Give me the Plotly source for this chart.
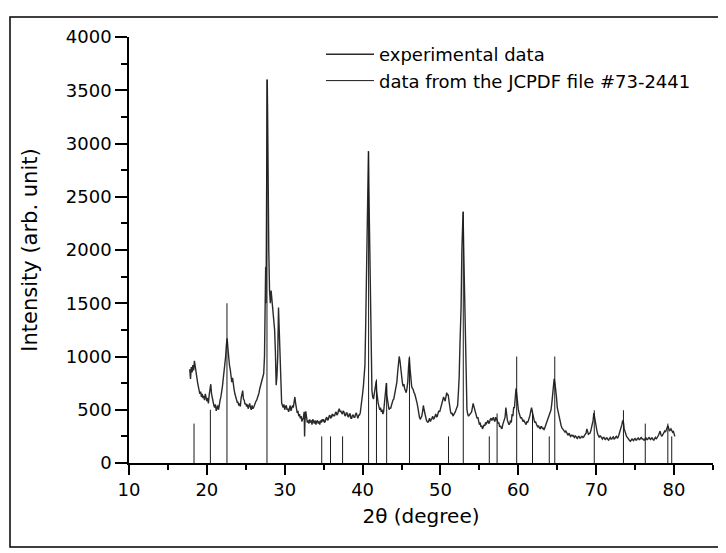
import plotly.graph_objects as go

# Experimental XRD pattern (2theta in degrees, intensity in arb. units)
exp_2theta = [
    17.8, 17.9,
    18.0, 18.1, 18.2, 18.3, 18.4, 18.5, 18.6, 18.7, 18.8, 18.9,
    19.0, 19.1, 19.2, 19.3, 19.4, 19.5, 19.6, 19.7, 19.8, 19.9,
    20.0, 20.1, 20.2, 20.3, 20.4, 20.5, 20.6, 20.7, 20.8, 20.9,
    21.0, 21.1, 21.2, 21.3, 21.4, 21.5, 21.6, 21.7, 21.8, 21.9,
    22.0, 22.1, 22.2, 22.3, 22.4, 22.5, 22.6, 22.7, 22.8, 22.9,
    23.0, 23.1, 23.2, 23.3, 23.4, 23.5, 23.6, 23.7, 23.8, 23.9,
    24.0, 24.1, 24.2, 24.3, 24.4, 24.5, 24.6, 24.7, 24.8, 24.9,
    25.0, 25.1, 25.2, 25.3, 25.4, 25.5, 25.6, 25.7, 25.8, 25.9,
    26.0, 26.1, 26.2, 26.3, 26.4, 26.5, 26.6, 26.7, 26.8, 26.9,
    27.0, 27.1, 27.2, 27.3, 27.4, 27.5, 27.55, 27.6, 27.65, 27.7, 27.75, 27.8, 27.85, 27.95,
    28.05, 28.15, 28.25, 28.35, 28.5, 28.6, 28.7, 28.8, 28.9,
    29.0, 29.1, 29.2, 29.3, 29.4, 29.5, 29.6, 29.7, 29.8, 29.9,
    30.0, 30.1, 30.2, 30.3, 30.4, 30.5, 30.6, 30.7, 30.8, 30.9,
    31.0, 31.1, 31.2, 31.3, 31.4, 31.5, 31.6, 31.7, 31.8, 31.9,
    32.0, 32.1, 32.2, 32.3, 32.4, 32.5, 32.55, 32.6, 32.7, 32.8, 32.9,
    33.0, 33.1, 33.2, 33.3, 33.4, 33.5, 33.6, 33.7, 33.8, 33.9,
    34.0, 34.1, 34.2, 34.3, 34.4, 34.5, 34.6, 34.7, 34.8, 34.9,
    35.0, 35.1, 35.2, 35.3, 35.4, 35.5, 35.6, 35.7, 35.8, 35.9,
    36.0, 36.1, 36.2, 36.3, 36.4, 36.5, 36.6, 36.7, 36.8, 36.9,
    37.0, 37.1, 37.2, 37.3, 37.4, 37.5, 37.6, 37.7, 37.8, 37.9,
    38.0, 38.1, 38.2, 38.3, 38.4, 38.5, 38.6, 38.7, 38.8, 38.9,
    39.0, 39.1, 39.2, 39.3, 39.4, 39.5, 39.6, 39.7, 39.8, 39.9,
    40.0, 40.1, 40.2, 40.3, 40.4, 40.5, 40.6, 40.7, 40.75, 40.8, 40.9,
    41.0, 41.1, 41.2, 41.3, 41.4, 41.5, 41.6, 41.75, 41.8, 41.9,
    42.0, 42.1, 42.2, 42.3, 42.4, 42.5, 42.6, 42.7, 42.8, 42.9,
    43.0, 43.05, 43.1, 43.2, 43.3, 43.4, 43.5, 43.6, 43.7, 43.8, 43.9,
    44.0, 44.1, 44.2, 44.3, 44.4, 44.5, 44.6, 44.7, 44.8, 44.9,
    45.0, 45.1, 45.2, 45.3, 45.4, 45.5, 45.6, 45.7, 45.8, 45.9,
    46.0, 46.1, 46.2, 46.3, 46.4, 46.5, 46.6, 46.7, 46.8, 46.9,
    47.0, 47.1, 47.2, 47.3, 47.4, 47.5, 47.6, 47.7, 47.8, 47.9,
    48.0, 48.1, 48.2, 48.3, 48.4, 48.5, 48.6, 48.7, 48.8, 48.9,
    49.0, 49.1, 49.2, 49.3, 49.4, 49.5, 49.6, 49.7, 49.8, 49.9,
    50.0, 50.1, 50.2, 50.3, 50.4, 50.5, 50.6, 50.7, 50.8, 50.9,
    51.0, 51.1, 51.2, 51.3, 51.4, 51.5, 51.6, 51.7, 51.8, 51.9,
    52.0, 52.1, 52.2, 52.3, 52.4, 52.5, 52.65, 52.75, 52.9,
    53.0, 53.1, 53.2, 53.3, 53.4, 53.5, 53.6, 53.7, 53.8, 53.9,
    54.0, 54.1, 54.2, 54.3, 54.4, 54.5, 54.6, 54.7, 54.8, 54.9,
    55.0, 55.1, 55.2, 55.3, 55.4, 55.5, 55.6, 55.7, 55.8, 55.9,
    56.0, 56.1, 56.2, 56.3, 56.4, 56.5, 56.6, 56.7, 56.8, 56.9,
    57.0, 57.1, 57.2, 57.3, 57.4, 57.5, 57.6, 57.7, 57.8, 57.9,
    58.0, 58.1, 58.2, 58.3, 58.4, 58.5, 58.6, 58.7, 58.8, 58.9,
    59.0, 59.1, 59.2, 59.3, 59.4, 59.5, 59.6, 59.7, 59.8, 59.9,
    60.0, 60.1, 60.2, 60.3, 60.4, 60.5, 60.6, 60.7, 60.8, 60.9,
    61.0, 61.1, 61.2, 61.3, 61.4, 61.5, 61.6, 61.7, 61.8, 61.9,
    62.0, 62.1, 62.2, 62.3, 62.4, 62.5, 62.6, 62.7, 62.8, 62.9,
    63.0, 63.1, 63.2, 63.3, 63.4, 63.5, 63.6, 63.7, 63.8, 63.9,
    64.0, 64.1, 64.2, 64.3, 64.4, 64.5, 64.6, 64.7, 64.8, 64.9,
    65.0, 65.1, 65.2, 65.3, 65.4, 65.5, 65.6, 65.7, 65.8, 65.9,
    66.0, 66.1, 66.2, 66.3, 66.4, 66.5, 66.6, 66.7, 66.8, 66.9,
    67.0, 67.1, 67.2, 67.3, 67.4, 67.5, 67.6, 67.7, 67.8, 67.9,
    68.0, 68.1, 68.2, 68.3, 68.4, 68.5, 68.6, 68.7, 68.8, 68.9,
    69.0, 69.1, 69.2, 69.3, 69.4, 69.5, 69.6, 69.7, 69.8, 69.9,
    70.0, 70.1, 70.2, 70.3, 70.4, 70.5, 70.6, 70.7, 70.8, 70.9,
    71.0, 71.1, 71.2, 71.3, 71.4, 71.5, 71.6, 71.7, 71.8, 71.9,
    72.0, 72.1, 72.2, 72.3, 72.4, 72.5, 72.6, 72.7, 72.8, 72.9,
    73.0, 73.1, 73.2, 73.3, 73.4, 73.5, 73.6, 73.7, 73.8, 73.9,
    74.0, 74.1, 74.2, 74.3, 74.4, 74.5, 74.6, 74.7, 74.8, 74.9,
    75.0, 75.1, 75.2, 75.3, 75.4, 75.5, 75.6, 75.7, 75.8, 75.9,
    76.0, 76.1, 76.2, 76.3, 76.4, 76.5, 76.6, 76.7, 76.8, 76.9,
    77.0, 77.1, 77.2, 77.3, 77.4, 77.5, 77.6, 77.7, 77.8, 77.9,
    78.0, 78.1, 78.2, 78.3, 78.4, 78.5, 78.6, 78.7, 78.8, 78.9,
    79.0, 79.1, 79.2, 79.3, 79.4, 79.5, 79.6, 79.7, 79.8, 79.9,
    80.0, 80.1,
]
exp_intensity = [
    880, 790,
    900, 850, 920, 870, 960, 905, 820, 790, 760, 720,
    690, 650, 670, 620, 650, 610, 630, 590, 650, 600,
    580, 610, 560, 640, 720, 740, 650, 600, 560, 540,
    520, 550, 490, 520, 540, 500, 560, 590, 620, 660,
    720, 790, 850, 920, 990, 1100, 1170, 1080, 980, 920,
    880, 820, 760, 800, 720, 690, 650, 620, 600, 570,
    570, 540, 560, 530, 610, 640, 680, 600, 590, 550,
    560, 530, 550, 510, 530, 560, 520, 500, 540, 510,
    520, 550, 560, 580, 590, 610, 630, 660, 700, 730,
    760, 790, 830, 840, 1000, 1400, 1840, 1500, 2600, 3020, 3600, 3300, 2370, 2000,
    1615, 1500, 1620, 1520, 1440, 1300, 1250, 1050, 730,
    820, 1000, 1460, 1200, 940, 700, 570, 540, 520, 550,
    500, 530, 540, 500, 510, 480, 520, 540, 490, 510,
    540, 520, 560, 620, 560, 520, 470, 490, 440, 460,
    420, 440, 390, 410, 430, 480, 250, 400, 485, 420, 380,
    400, 370, 410, 380, 400, 360, 410, 390, 370, 400,
    360, 390, 400, 370, 390, 360, 400, 380, 410, 390,
    410, 380, 390, 420, 430, 400, 410, 440, 450, 420,
    430, 460, 440, 450, 440, 470, 480, 450, 460, 490,
    510, 480, 490, 470, 460, 490, 480, 450, 440, 470,
    470, 440, 430, 460, 460, 420, 420, 450, 450, 430,
    430, 460, 470, 440, 420, 450, 450, 470, 520, 580,
    650, 720, 800, 920, 1300, 1750, 2500, 2750, 2930, 2600, 2100,
    1200, 800, 680, 620, 600, 650, 700, 770, 680, 600,
    560, 530, 500, 520, 480, 500, 460, 480, 560, 620,
    700, 750, 640, 580, 540, 500, 520, 510, 540, 570, 590,
    600, 640, 680, 720, 760, 850, 950, 1000, 960, 880,
    800, 760, 720, 740, 700, 680, 660, 700, 760, 900,
    990, 880, 780, 720, 700, 690, 660, 650, 620, 600,
    560, 520, 460, 430, 410, 420, 440, 480, 540, 500,
    460, 430, 400, 390, 380, 400, 420, 390, 400, 420,
    440, 410, 420, 450, 460, 430, 440, 470, 490, 480,
    510, 530, 560, 590, 620, 600, 580, 620, 660, 640,
    640, 580, 520, 480, 460, 470, 440, 450, 460, 480,
    500, 520, 540, 660, 800, 1100, 1470, 2000, 2360,
    1950, 1500, 1100, 700, 500, 460, 440, 450, 460, 480,
    480, 520, 560, 530, 500, 460, 440, 420, 430, 400,
    360, 380, 340, 350, 320, 340, 360, 350, 380, 370,
    390, 400, 370, 380, 410, 420, 400, 410, 430, 400,
    390, 430, 420, 400, 370, 380, 340, 350, 330, 320,
    360, 380, 400, 430, 520, 420, 400, 380, 360, 370,
    400, 380, 460, 440, 520, 520, 620, 700, 640, 520,
    500, 470, 440, 420, 430, 410, 390, 400, 380, 370,
    360, 390, 380, 400, 420, 450, 490, 520, 480, 440,
    410, 380, 390, 360, 350, 340, 350, 330, 320, 340,
    340, 320, 330, 310, 330, 340, 360, 380, 400, 420,
    440, 460, 500, 560, 620, 700, 790, 750, 700, 620,
    520, 480, 440, 400, 370, 350, 330, 320, 310, 300,
    290, 300, 280, 270, 260, 280, 270, 250, 260, 255,
    260, 245, 240, 255, 250, 235, 230, 250, 250, 235,
    235, 250, 250, 240, 245, 260, 270, 280, 320, 300,
    270, 275, 280, 300, 330, 360, 400, 470, 420, 370,
    330, 300, 270, 250, 240, 255, 250, 235, 225, 240,
    240, 225, 220, 235, 235, 220, 215, 230, 240, 225,
    225, 240, 245, 225, 230, 245, 250, 235, 240, 260,
    280, 300, 330, 360, 400, 380, 320, 290, 270, 250,
    240, 225, 215, 210, 205, 220, 225, 215, 210, 225,
    230, 215, 215, 230, 235, 220, 220, 235, 240, 225,
    225, 215, 215, 230, 235, 220, 220, 235, 240, 225,
    220, 235, 235, 220, 215, 230, 240, 225, 235, 245,
    260, 280, 300, 270, 250, 260, 270, 290, 300, 290,
    310, 330, 350, 330, 300, 310, 320, 305, 290, 300,
    270, 250,
]
assert len(exp_2theta) == len(exp_intensity), (len(exp_2theta), len(exp_intensity))

# Reference pattern, JCPDF file #73-2441
ref_2theta = [18.35, 20.45, 22.58, 27.72, 34.75, 35.88, 37.43, 40.77, 41.78, 43.09, 46.02, 51.03,
              52.93, 56.27, 57.27, 59.79, 61.82, 63.97, 64.68, 69.75, 73.5, 76.3, 79.2, 79.7]
ref_intensity = [370, 500, 1500, 3600, 250, 250, 250, 2920, 785, 750, 1000, 250,
                 2360, 250, 465, 1000, 490, 250, 1000, 495, 495, 370, 370, 250]

x_ticks = [10, 20, 30, 40, 50, 60, 70, 80]
y_ticks = [0, 500, 1000, 1500, 2000, 2500, 3000, 3500, 4000]

stick_x, stick_y = [], []
for p, h in zip(ref_2theta, ref_intensity):
    stick_x += [p, p, None]
    stick_y += [0, h, None]

FONT = "DejaVu Sans"

fig = go.Figure()
fig.add_trace(go.Scatter(x=exp_2theta, y=exp_intensity, mode="lines",
                         name="experimental data",
                         line=dict(color="#2a2a2a", width=1.4)))
fig.add_trace(go.Scatter(x=stick_x, y=stick_y, mode="lines",
                         name="data from the JCPDF file #73-2441",
                         line=dict(color="#1a1a1a", width=1)))

# the page body adds an 8px offset; figure is sized to fit the 726x553 window
OFF = 8
W, H = 726 - OFF, 553 - OFF
L, T = 129 - OFF, 37 - OFF
plot_right, plot_bottom = 713 - OFF, 463 - OFF
R, B = W - plot_right, H - plot_bottom
pw, ph = W - L - R, H - T - B

def px(xpix):
    return (xpix - OFF - L) / pw

def py(ypix):
    return (plot_bottom - (ypix - OFF)) / ph

fig.update_layout(
    width=W, height=H,
    margin=dict(l=L, r=R, t=T, b=B),
    paper_bgcolor="white", plot_bgcolor="white",
    font=dict(family=FONT, size=18, color="black"),
    showlegend=True,
    legend=dict(x=px(321), y=py(36), xanchor="left", yanchor="top",
                bgcolor="rgba(0,0,0,0)", borderwidth=0,
                font=dict(family=FONT, size=18, color="black"),
                itemwidth=48, tracegroupgap=0),
    xaxis=dict(range=[10, 85], tickmode="array", tickvals=x_ticks,
               ticks="outside", ticklen=10, tickwidth=1.5, tickcolor="black",
               showline=True, linecolor="black", linewidth=1.5,
               showgrid=False, zeroline=False,
               minor=dict(dtick=5, tick0=10, ticks="outside", ticklen=5, tickwidth=1.5, tickcolor="black", showgrid=False),
               tickfont=dict(family=FONT, size=18),
               title=dict(text="2θ (degree)", font=dict(family=FONT, size=20), standoff=10)),
    yaxis=dict(range=[0, 4000], tickmode="array", tickvals=y_ticks,
               ticks="outside", ticklen=12, tickwidth=1.5, tickcolor="black",
               showline=True, linecolor="black", linewidth=1.5,
               showgrid=False, zeroline=False,
               minor=dict(dtick=250, tick0=0, ticks="outside", ticklen=6, tickwidth=1.5, tickcolor="black", showgrid=False),
               tickfont=dict(family=FONT, size=18),
               title=dict(text="Intensity (arb. unit)", font=dict(family=FONT, size=21), standoff=22)),
    shapes=[dict(type="rect", xref="paper", yref="paper",
                 x0=px(10), x1=px(719), y0=py(547), y1=py(17),
                 line=dict(color="black", width=1.5), fillcolor="rgba(0,0,0,0)", layer="below")],
)

fig.write_html("out.html")
